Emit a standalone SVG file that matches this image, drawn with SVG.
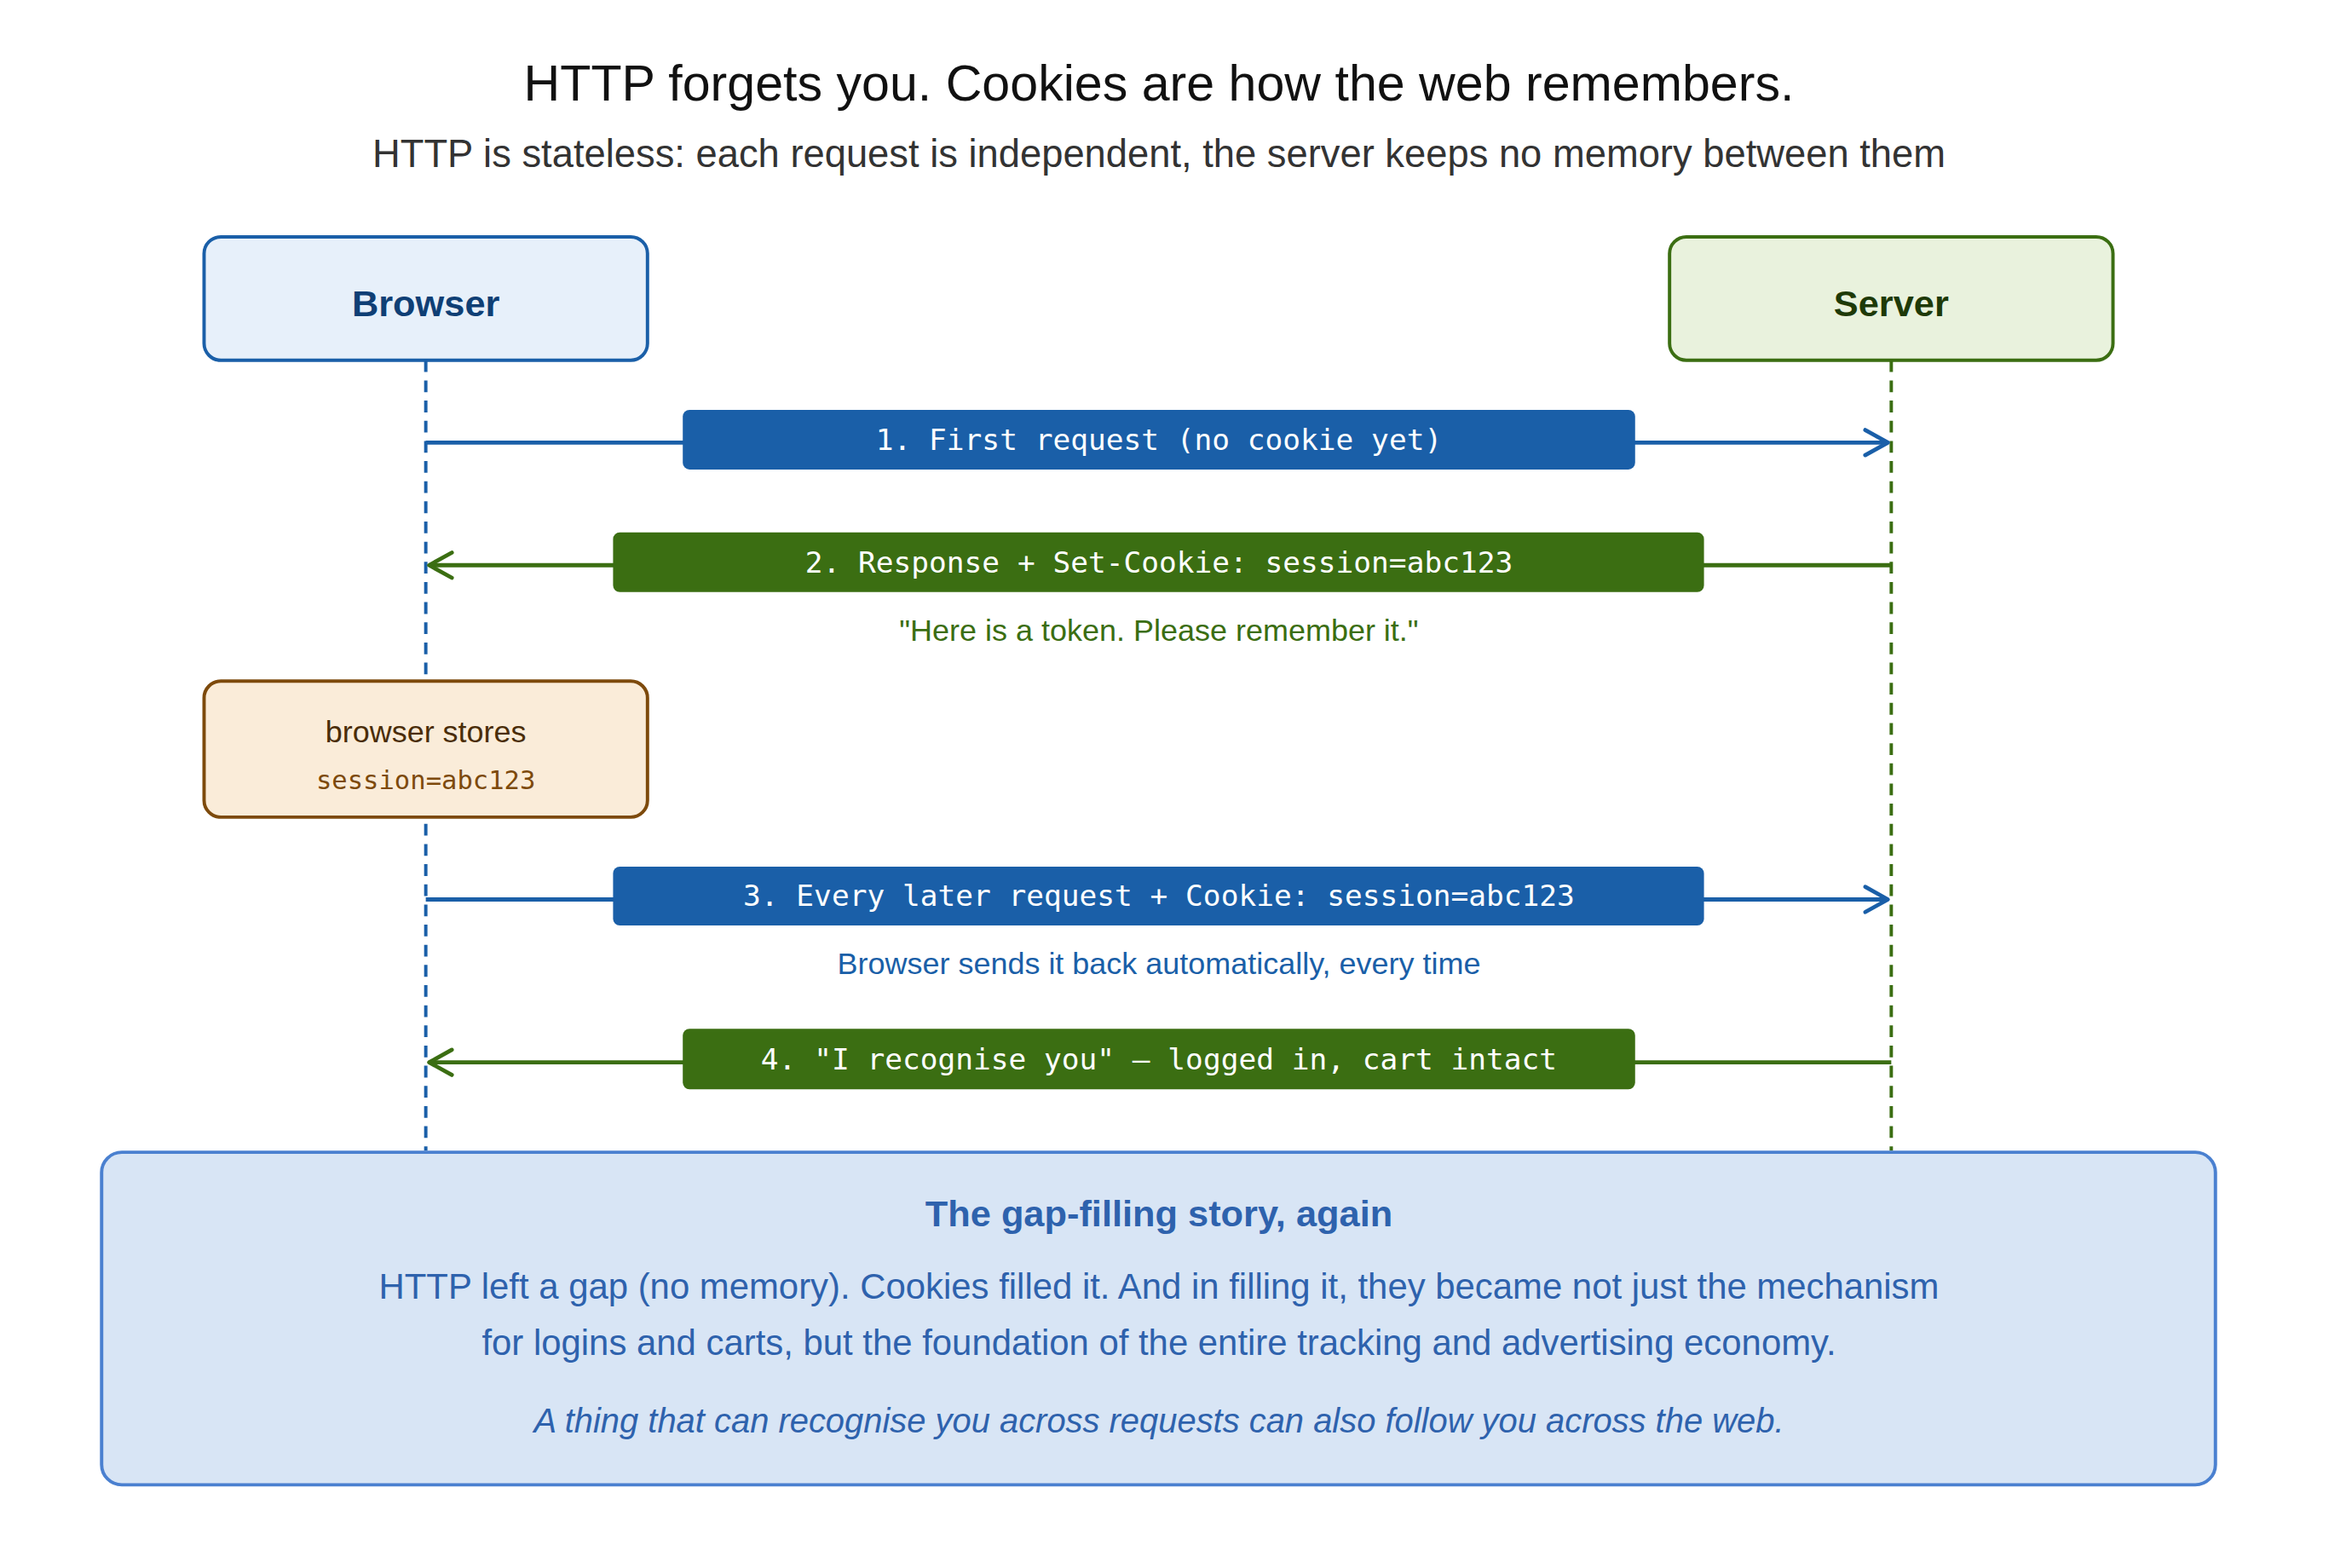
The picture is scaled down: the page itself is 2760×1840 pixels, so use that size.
<svg xmlns="http://www.w3.org/2000/svg" width="2760" height="1840" viewBox="0 0 2760 1840">
<style>
.s{font-family:"Liberation Sans",Arial,sans-serif;text-anchor:middle}
.m{font-family:"DejaVu Sans Mono","Liberation Mono",monospace;text-anchor:middle;fill:#fff;font-size:35px}
.b{stroke:#1a5fa8;stroke-width:5;fill:none}
.g{stroke:#3b6e12;stroke-width:5;fill:none}
</style>
<defs>
<marker id="ab" viewBox="0 0 20 20" refX="18" refY="10" markerWidth="30" markerHeight="30" markerUnits="userSpaceOnUse" orient="auto" style="overflow:visible"><path d="M0,0 L18,10 L0,20" fill="none" stroke="#1a5fa8" stroke-width="3.2" stroke-linecap="round" stroke-linejoin="round"/></marker>
<marker id="ag" viewBox="0 0 20 20" refX="18" refY="10" markerWidth="30" markerHeight="30" markerUnits="userSpaceOnUse" orient="auto" style="overflow:visible"><path d="M0,0 L18,10 L0,20" fill="none" stroke="#3b6e12" stroke-width="3.2" stroke-linecap="round" stroke-linejoin="round"/></marker>
</defs>
<rect width="2760" height="1840" fill="#fff"/>
<g transform="scale(0.9855)">
<text class="s" x="1380" y="120" font-size="60" fill="#111">HTTP forgets you. Cookies are how the web remembers.</text>
<text class="s" x="1380" y="199" font-size="46" fill="#333">HTTP is stateless: each request is independent, the server keeps no memory between them</text>
<g id="lifelines">
<line x1="507" y1="429" x2="507" y2="1370" stroke="#1a5fa8" stroke-width="4" stroke-dasharray="14,10"/>
<line x1="2252" y1="429" x2="2252" y2="1370" stroke="#3b6e12" stroke-width="4" stroke-dasharray="14,10"/>
</g>
<g id="browser"><rect x="243" y="282" width="528" height="147" rx="20" fill="#e7f0fa" stroke="#1a5fa8" stroke-width="4"/><text class="s" x="507" y="376" font-size="44" font-weight="bold" fill="#0f3f75">Browser</text></g>
<g id="server"><rect x="1988" y="282" width="528" height="147" rx="20" fill="#e9f2dd" stroke="#3b6e12" stroke-width="4"/><text class="s" x="2252" y="376" font-size="44" font-weight="bold" fill="#1e3a08">Server</text></g>
<g id="stores"><rect x="243" y="811" width="528" height="162" rx="20" fill="#faecd9" stroke="#7d4a0c" stroke-width="4"/><text class="s" x="507" y="884" font-size="36.5" fill="#4a2d08">browser stores</text><text class="m" x="507" y="940" style="fill:#7d4a0c;font-size:31px">session=abc123</text></g>
<g id="connectors">
<line class="b" x1="507" y1="527" x2="2248" y2="527" marker-end="url(#ab)"/>
<line class="g" x1="2252" y1="673" x2="511" y2="673" marker-end="url(#ag)"/>
<line class="b" x1="507" y1="1071" x2="2248" y2="1071" marker-end="url(#ab)"/>
<line class="g" x1="2252" y1="1265" x2="511" y2="1265" marker-end="url(#ag)"/>
<rect x="813" y="488" width="1134" height="71" rx="8" fill="#1a5fa8"/><text class="m" x="1380" y="536">1. First request (no cookie yet)</text>
<rect x="730" y="634" width="1299" height="71" rx="8" fill="#3b6e12"/><text class="m" x="1380" y="682">2. Response + Set-Cookie: session=abc123</text>
<text class="s" x="1380" y="763" font-size="36.5" fill="#3b6e12">"Here is a token. Please remember it."</text>
<rect x="730" y="1032" width="1299" height="70" rx="8" fill="#1a5fa8"/><text class="m" x="1380" y="1079">3. Every later request + Cookie: session=abc123</text>
<text class="s" x="1380" y="1160" font-size="36.5" fill="#1a5fa8">Browser sends it back automatically, every time</text>
<rect x="813" y="1225" width="1134" height="72" rx="8" fill="#3b6e12"/><text class="m" x="1380" y="1273">4. "I recognise you" — logged in, cart intact</text>
</g>
<g id="story"><rect x="121" y="1372" width="2517" height="396" rx="24" fill="#d8e5f5" stroke="#4a80d0" stroke-width="4"/>
<text class="s" x="1380" y="1460" font-size="44" font-weight="bold" fill="#2e62ad">The gap-filling story, again</text>
<text class="s" x="1380" y="1546" font-size="42.5" fill="#2e62ad">HTTP left a gap (no memory). Cookies filled it. And in filling it, they became not just the mechanism</text>
<text class="s" x="1380" y="1613" font-size="42.5" fill="#2e62ad">for logins and carts, but the foundation of the entire tracking and advertising economy.</text>
<text class="s" x="1380" y="1706" font-size="40.5" font-style="italic" fill="#2e62ad">A thing that can recognise you across requests can also follow you across the web.</text>
</g>
</g>
</svg>
